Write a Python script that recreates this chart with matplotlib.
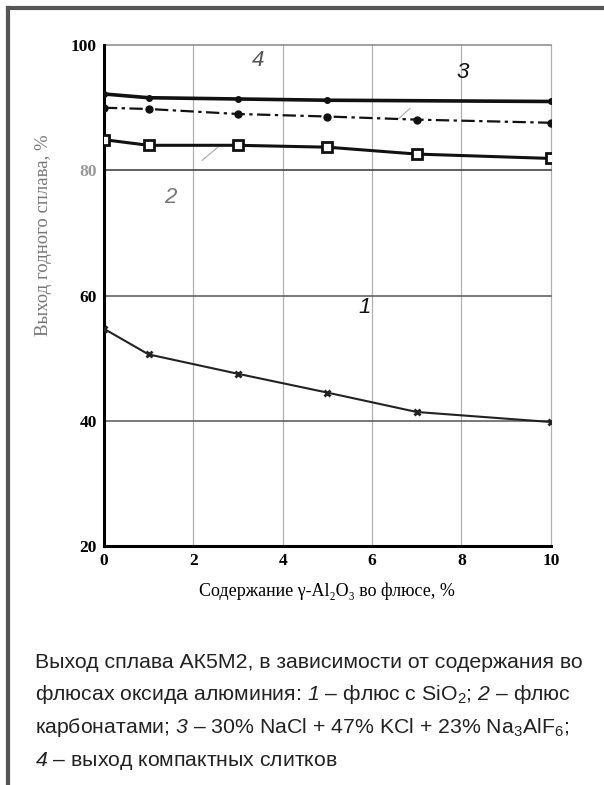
import numpy as np
import matplotlib
matplotlib.use("Agg")
import matplotlib.pyplot as plt
from matplotlib.lines import Line2D

plt.rcParams['mathtext.fontset'] = 'custom'
plt.rcParams['mathtext.rm'] = 'Liberation Sans'
plt.rcParams['mathtext.it'] = 'Liberation Sans:italic'
# italic digits go through \mathsf, \mathit turns digits upright
plt.rcParams['mathtext.sf'] = 'Liberation Sans:italic'

# data
x1 = [0, 1, 3, 5, 7, 10]
y1 = [54.7, 50.6, 47.5, 44.5, 41.4, 39.8]      # 1 - flux with SiO2
x2 = [0, 1, 3, 5, 7, 10]
y2 = [84.9, 84.0, 84.0, 83.7, 82.6, 81.9]      # 2 - carbonate flux
x3 = [0, 1, 3, 5, 7, 10]
y3 = [90.0, 89.8, 89.0, 88.6, 88.1, 87.6]      # 3 - NaCl + KCl + Na3AlF6
x4 = [0, 1, 3, 5, 10]
y4 = [92.2, 91.6, 91.4, 91.2, 91.0]            # 4 - compact ingots

xticks = [0, 2, 4, 6, 8, 10]
yticks = [20, 40, 60, 80, 100]

fig = plt.figure(figsize=(6.04, 7.85), dpi=100)
ax = fig.add_axes([0.172, 0.3045, 0.74, 0.638])

# grid
for xv in xticks[1:]:
    ax.axvline(xv, color='#b0b0b0', lw=0.9, zorder=0, clip_on=False)
for yv, c in zip(yticks[1:], ['#555555', '#555555', '#333333', '#888888']):
    ax.axhline(yv, color=c, lw=1.1, zorder=0, clip_on=False)

ax.plot(x4, y4, color='#111111', lw=2.6, marker='o', ms=4, zorder=3)
ax.plot(x3, y3, color='#111111', lw=1.6, ls=(0, (6, 2, 1.5, 2)),
        marker='o', ms=5, zorder=3)
ax.plot(x2, y2, color='#111111', lw=2.2, marker='s', ms=7,
        mfc='white', mec='#111111', mew=2, zorder=3)
ax.plot(x1, y1, color='#222222', lw=1.5, marker='x', ms=4, mew=2, zorder=3)

# leader lines
ax.plot([2.2, 2.55], [81.6, 83.7], color='#aaaaaa', lw=0.8)
ax.plot([6.6, 6.85], [88.3, 89.9], color='#aaaaaa', lw=0.8)

lab = dict(family=['Liberation Sans', 'DejaVu Sans'], style='italic', fontsize=16)
ax.text(3.45, 97.6, '4', color='#555555', ha='center', va='center', **lab)
ax.text(8.03, 95.7, '3', color='#111111', ha='center', va='center', **lab)
ax.text(1.48, 75.7, '2', color='#777777', ha='center', va='center', **lab)
ax.text(5.84, 58.1, '1', color='#111111', ha='center', va='center', **lab)

ax.set_xlim(0, 10)
ax.set_ylim(20, 100)
ax.set_xticks(xticks)
ax.set_yticks(yticks)
serif = ['Liberation Serif', 'DejaVu Serif']
ax.set_xticklabels([str(v) for v in xticks], family=serif, fontsize=12.5, fontweight='bold')
ax.set_yticklabels([str(v) for v in yticks], family=serif, fontsize=12.5, fontweight='bold')
ax.get_yticklabels()[3].set_color('#999999')
ax.tick_params(length=0, pad=5)
for s in ['top', 'right']:
    ax.spines[s].set_visible(False)
ax.spines['left'].set_linewidth(2.2)
ax.spines['bottom'].set_linewidth(2.2)

ax.set_xlabel('Содержание γ-Al₂O₃ во флюсе, %', family=serif,
              fontsize=13, labelpad=10)
ax.set_ylabel('Выход годного сплава, %', family=serif, fontsize=13.5,
              color='#777777')
ax.yaxis.set_label_coords(-0.115, 0.62)

# frame of the figure box
fig.add_artist(Line2D([8 / 604, 1], [1 - 8 / 785, 1 - 8 / 785], color='#555555', lw=3))
fig.add_artist(Line2D([8 / 604, 8 / 604], [0, 1 - 8 / 785], color='#555555', lw=3))

cap = dict(family=['Liberation Sans', 'DejaVu Sans'], fontsize=15.3,
           color='#222222', ha='left', va='baseline')
lines = [
    'Выход сплава АК5М2, в зависимости от содержания во',
    r'флюсах оксида алюминия: $\mathsf{1}$ – флюс с SiO$_2$; $\mathsf{2}$ – флюс',
    r'карбонатами; $\mathsf{3}$ – 30% NaCl + 47% KCl + 23% Na$_3$AlF$_6$;',
    r'$\mathsf{4}$ – выход компактных слитков',
]
for i, t in enumerate(lines):
    fig.text(35 / 604, 1 - (668 + 32.5 * i) / 785, t, **cap)

fig.savefig('out.png', dpi=100)
